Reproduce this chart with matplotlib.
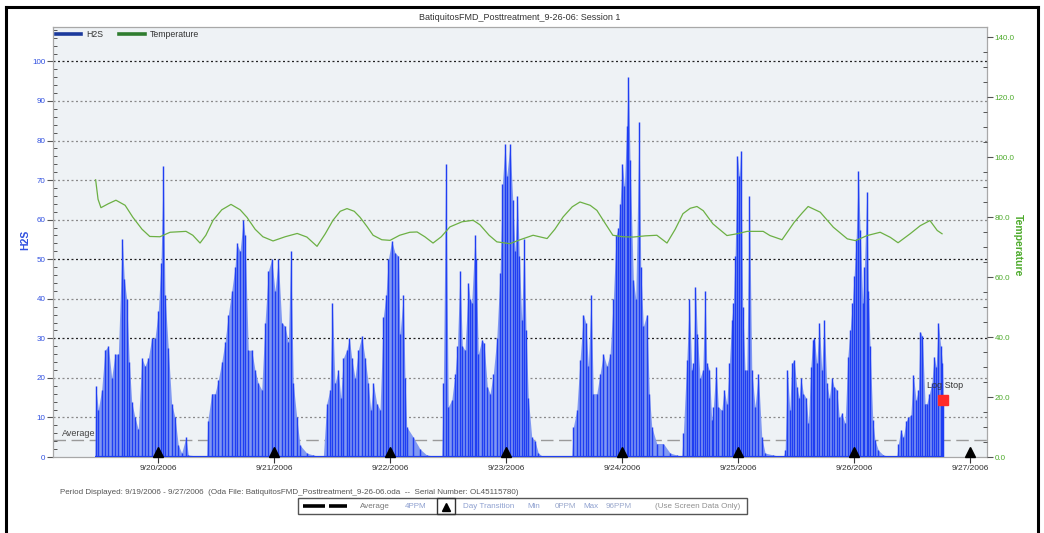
import numpy as np
import matplotlib
matplotlib.use("Agg")
import matplotlib.pyplot as plt
import matplotlib.dates as mdates
import pandas as pd
from matplotlib.lines import Line2D
from matplotlib.patches import Rectangle
from matplotlib.ticker import MultipleLocator, FixedLocator, FuncFormatter

plt.rcParams['font.family'] = ['Liberation Sans', 'DejaVu Sans']

# ---------------- data ----------------
START = pd.Timestamp('2006-09-19 00:00')

# H2S readings (hours after 9/19/2006 00:00, ppm)
h2s_hours = [
    10.97, 11.11, 11.65, 12.35, 13.03, 13.72, 14.42, 15.10, 15.79, 16.61, 17.03, 17.52, 18.06, 18.56, 19.24, 19.92,
    20.63, 21.31, 21.99, 22.70, 23.38, 24.06, 24.62, 25.10, 25.45, 26.13, 26.83, 27.52, 28.20, 28.90, 29.79, 30.27,
    34.08, 34.28, 35.11, 35.79, 36.48, 37.18, 37.86, 38.55, 39.25, 39.93, 40.28, 40.97, 41.65, 42.00, 42.68, 43.39,
    44.07, 44.75, 45.46, 46.14, 46.82, 47.53, 48.21, 48.89, 49.59, 50.28, 50.96, 51.46, 51.99, 52.70, 53.38, 54.77,
    56.13, 57.87,
    58.20, 58.90, 59.59, 60.06, 60.62, 61.30, 61.80, 62.34, 63.04, 63.58, 64.08, 64.76, 65.44, 66.15, 66.83, 67.51,
    68.00, 68.55, 69.25, 69.93, 70.62, 71.17, 71.65, 72.35, 73.04, 73.72, 74.07, 74.75, 75.10, 75.46, 76.82, 78.21,
    79.59,
    82.70, 83.03, 83.53, 84.06, 84.77, 85.45, 85.93, 86.48, 86.96, 87.52, 88.20, 88.55, 88.90, 89.59, 89.79, 90.27,
    90.97, 91.45, 92.13, 92.69, 93.37, 94.08, 94.76, 95.24, 95.80, 96.15, 96.83, 97.39, 97.86, 98.34, 98.75, 99.25,
    99.72, 100.14, 100.61, 101.32, 102.00, 102.68, 103.72,
    109.60, 109.93, 110.63, 111.31, 112.00, 112.49, 113.03, 113.59, 114.06, 114.77, 115.45, 116.13, 116.84, 117.52,
    118.20, 118.76, 119.24, 119.59, 120.06, 120.48, 120.97, 121.30, 121.66, 122.34, 122.84, 123.52, 123.87, 124.41,
    125.11, 125.65, 126.15, 127.18, 128.55, 129.93, 131.32,
    132.35, 132.68, 133.39, 133.93, 134.42, 134.75, 135.17, 135.58, 136.14, 136.70, 137.17, 137.52, 138.06, 138.56,
    138.89, 139.45, 139.92, 140.63, 141.10, 141.66, 142.20, 142.70, 143.03, 143.38, 143.86, 144.27, 144.56, 144.97,
    145.45, 145.80, 146.34, 146.84, 147.52, 148.20, 148.91, 149.59, 151.31,
    153.38, 153.73, 154.21, 154.70, 155.12, 155.59, 156.15, 156.63, 156.98, 157.52, 158.07, 158.55, 159.04, 159.46,
    159.79, 160.28, 160.82, 161.32, 161.80, 162.35, 162.89, 163.39, 163.86, 164.42, 164.96, 165.46, 166.14, 166.70,
    167.18, 167.65, 168.00, 168.42, 168.89, 169.24, 169.80, 170.13, 170.63, 170.96, 171.31, 171.87, 172.34, 173.03,
    174.06, 176.13,
    176.84, 177.17, 177.66, 178.20, 178.76, 179.24, 179.73, 180.27, 180.83, 181.31, 181.66, 182.13, 182.69, 183.04,
    183.58, 184.08, 184.55, 184.97, 185.44, 185.94, 186.27, 186.48,
]
h2s_ppm = [
    0, 18, 12, 17, 27, 28, 20, 26, 26, 55, 45, 40, 24, 14, 10, 7,
    25, 23, 25, 30, 30, 37, 49, 73.6, 41, 27.5, 13.5, 10, 3, 1, 5, 0.5,
    0, 9, 16, 16, 19.5, 24, 29, 36, 42, 48, 54, 52, 60, 56, 27, 27,
    22, 18.6, 17, 34, 47, 50, 42, 50, 34, 33, 29, 52, 18.6, 10, 3, 1,
    0.5, 0,
    0, 13.5, 17, 39, 18.6, 22, 15, 25, 27, 30, 25, 20, 27, 30.5, 25, 18.6,
    12, 18.6, 13.5, 12, 35.5, 41, 50, 54.6, 51.6, 50.8, 31, 41, 20, 7.6, 5, 2,
    0.5,
    0, 18.6, 74, 12.7, 14.4, 21, 28, 47, 28, 27, 44, 40, 39, 56, 50, 26,
    29.6, 28.8, 17.8, 16, 21, 30, 46.5, 69, 79, 71, 79, 65, 52, 66, 50.8, 34.7,
    55, 32, 15, 5, 4, 1, 0,
    0, 7.6, 11.8, 24.5, 36, 34, 23, 41, 16, 16, 21, 26, 23, 26,
    40, 56, 58, 64, 74, 68.5, 83.8, 96, 75, 44.8, 40, 84.6, 48, 33,
    36, 16, 7.6, 3.4, 3.4, 1, 0.5,
    0, 6, 24.5, 40, 22, 23.7, 43, 31, 20, 22, 42, 23.7, 22, 9.3,
    12.7, 22.8, 12.7, 11.8, 17, 13.5, 23.7, 34.7, 39, 50.8, 76, 71, 77.4, 38,
    22, 22, 66, 22, 12.7, 21, 5, 1, 0.5,
    0, 1.7, 22, 12, 23.7, 24.5, 17.8, 15, 20, 16, 15, 8.5, 22.8, 29.6,
    30, 23.7, 33.8, 22, 34.7, 18.6, 15, 20, 17.8, 17, 10, 11, 8.5, 25.4,
    32, 39, 45.7, 55, 72.3, 57.5, 39, 48, 67, 42, 28, 9.3, 4.2, 1.7,
    0.5, 0,
    0, 3.4, 6.8, 5, 9, 10, 10.6, 20.7, 14.4, 17, 31.7, 30.5, 13.5, 13.5,
    16, 18.6, 25.4, 22.8, 33.8, 28, 23.7, 14.4,
]

# Temperature readings (hours after 9/19/2006 00:00, deg F)
temp_hours = [
    11.1, 11.6, 12.2, 13.7, 15.3, 17.2, 18.8, 20.7, 22.3, 24.4,
    26.5, 29.8, 31.2, 32.7, 33.9, 35.4, 37.2, 39.1, 41.0, 42.4,
    44.1, 45.7, 47.8, 50.3, 52.8, 54.8, 56.9, 58.6, 60.2, 61.7,
    63.1, 64.6, 65.8, 67.2, 68.5, 70.3, 72.0, 74.0, 76.1, 77.6,
    79.2, 80.9, 82.6, 84.4, 86.9, 89.2, 90.6, 92.5, 94.1, 96.8,
    98.9, 101.6, 104.5, 106.1, 107.8, 109.7, 111.3, 113.4, 114.8, 116.5,
    118.1, 120.2, 122.3, 124.8, 127.2, 129.3, 131.0, 132.6, 134.1, 135.5,
    136.8, 138.8, 141.7, 143.8, 145.9, 149.2, 150.6, 153.1, 155.6, 157.3,
    158.5, 161.0, 163.7, 166.6, 168.3, 170.7, 173.4, 175.5, 177.1, 179.6,
    181.7, 183.7, 185.2, 186.2,
]
temp_f = [
    92.5, 86, 83.2, 84.5, 85.7, 84, 80, 76, 73.6, 73.5,
    75, 75.3, 74, 71.4, 74, 79, 82.5, 84.3, 82.5, 80,
    76, 73.5, 72.1, 73.5, 74.6, 73.4, 70.3, 74.5, 79, 82,
    82.9, 82, 80, 77, 74, 72.5, 72.3, 74, 75, 75.1,
    73.5, 71.4, 73.5, 76.8, 78.5, 79, 77.5, 74, 71.8, 71.2,
    72.5, 74, 72.9, 76, 80.1, 83.5, 85.1, 84, 82.3, 78,
    74, 73.5, 73.4, 73.8, 74, 71.4, 76, 81.2, 83, 83.6,
    82.2, 77.8, 73.9, 74.5, 75.3, 75.3, 73.9, 72.5, 78.3, 81.5,
    83.6, 81.7, 76.7, 72.8, 72.2, 73.9, 75, 73.3, 71.5, 74.5,
    77.2, 78.9, 75.6, 74.5,
]

day_ticks = ['2006-09-20', '2006-09-21', '2006-09-22', '2006-09-23',
             '2006-09-24', '2006-09-25', '2006-09-26', '2006-09-27']
day_labels = ['9/20/2006', '9/21/2006', '9/22/2006', '9/23/2006',
              '9/24/2006', '9/25/2006', '9/26/2006', '9/27/2006']
average_ppm = 4.4
log_stop_hour = 186.48
log_stop_ppm = 14.4
title = 'BatiquitosFMD_Posttreatment_9-26-06: Session 1'

assert len(h2s_hours) == len(h2s_ppm)
assert len(temp_hours) == len(temp_f)

# ---------------- figure ----------------
W, H = 1044, 533
fig = plt.figure(figsize=(W / 100, H / 100), dpi=100)
fig.patch.set_facecolor('white')

def fx(px):
    return px / W

def fy(py):
    return 1 - py / H

ax = fig.add_axes([fx(53), fy(457), fx(987) - fx(53), fy(27) - fy(457)])
ax.set_facecolor('#eef2f5')

to_num = lambda hrs: mdates.date2num(START + pd.to_timedelta(np.asarray(hrs, float), unit='h'))
t_h2s = to_num(h2s_hours)
v_h2s = np.asarray(h2s_ppm, float)
t_tmp = to_num(temp_hours)
v_tmp = np.asarray(temp_f, float)

x0 = to_num([2.28])[0]
x1 = to_num([195.5])[0]
ax.set_xlim(x0, x1)
ax.set_ylim(0, 108.7)

# gridlines
dark_grid = {30, 50, 100}
for g in range(10, 101, 10):
    ax.axhline(g, color='#222222' if g in dark_grid else '#8a8a8a',
               lw=0.9, ls=(0, (1.6, 2.0)), zorder=1)

# average dashed line
ax.axhline(average_ppm, color='#9a9a9a', lw=1.0, ls=(0, (9, 4)), zorder=1.5)
ax.text(to_num([4.1])[0], average_ppm + 0.4, 'Average', fontsize=6.5,
        color='#444444', ha='left', va='bottom', zorder=2)

# H2S series
ax.fill_between(t_h2s, 0, v_h2s, color='#8199f2', lw=0, zorder=2)
ax.vlines(t_h2s, 0, v_h2s, color='#1f3ef2', lw=1.05, zorder=3)
ax.plot([t_h2s[0], t_h2s[-1]], [0, 0], color='#1f3ef2', lw=1.6, zorder=3,
        solid_capstyle='butt')

# day transition markers
day_nums = mdates.date2num(pd.to_datetime(day_ticks))
ax.plot(day_nums, np.full(len(day_nums), 1.25), ls='none', marker='^',
        ms=7, color='black', zorder=6, clip_on=False)

# log stop
ax.plot([to_num([log_stop_hour])[0]], [log_stop_ppm], marker='s', ms=6.5,
        color='#ff2a2a', ls='none', zorder=7)
ax.text(to_num([log_stop_hour + 0.4])[0], log_stop_ppm + 2.6, 'Log Stop',
        fontsize=6.5, color='#333333', ha='center', va='bottom', zorder=7)

# axes styling
for s in ['left', 'right', 'top', 'bottom']:
    ax.spines[s].set_color('#a8a8a8')
    ax.spines[s].set_linewidth(0.9)

ax.xaxis.set_major_locator(FixedLocator(day_nums))
ax.set_xticklabels(day_labels)
ax.tick_params(axis='x', which='major', direction='out', length=4, width=0.8,
               color='#333333', labelsize=6, labelcolor='#333333', pad=1.5)

ax.yaxis.set_major_locator(MultipleLocator(10))
ax.yaxis.set_minor_locator(MultipleLocator(2))
ax.yaxis.set_major_formatter(FuncFormatter(lambda v, p: f'{int(round(v))}'))
ax.tick_params(axis='y', which='major', direction='out', length=4, width=0.8,
               color='#555555', labelsize=5.8, labelcolor='#3050e0', pad=1.5)
ax.tick_params(axis='y', which='minor', direction='in', length=3, width=0.7,
               color='#555555')

# temperature axis
ax2 = ax.twinx()
ax2.set_ylim(0, 143.5)
ax2.plot(t_tmp, v_tmp, color='#6cb044', lw=0.9, zorder=4)
ax2.yaxis.set_major_locator(MultipleLocator(20))
ax2.yaxis.set_minor_locator(MultipleLocator(5))
ax2.yaxis.set_major_formatter(FuncFormatter(lambda v, p: f'{v:.1f}'))
ax2.tick_params(axis='y', which='major', direction='out', length=4, width=0.8,
                color='#555555', labelsize=5.8, labelcolor='#4caa2a', pad=1.5)
ax2.tick_params(axis='y', which='minor', direction='in', length=3, width=0.7,
                color='#555555')
for s in ['left', 'right', 'top', 'bottom']:
    ax2.spines[s].set_visible(False)

# legend
handles = [Line2D([], [], color='#1b3a9c', lw=2.6),
           Line2D([], [], color='#2f7d2f', lw=2.6)]
ax2.legend(handles, ['H2S', 'Temperature'], loc='upper left', ncol=2,
           fontsize=6.3, frameon=False, handlelength=2.9, columnspacing=1.8,
           handletextpad=0.6, borderaxespad=0.0, borderpad=0.35,
           labelcolor='#333333')

# titles and axis labels
fig.text(0.498, fy(18), title, fontsize=6.5, color='#333333', ha='center', va='center')
fig.text(fx(25), fy(240), 'H2S', fontsize=7.5, color='#3050e0', fontweight='bold',
         rotation=90, ha='center', va='center')
fig.text(fx(1018), fy(245), 'Temperature', fontsize=7.5, color='#4caa2a',
         fontweight='bold', rotation=270, ha='center', va='center')

# footer
fig.text(fx(60), fy(493),
         'Period Displayed: 9/19/2006 - 9/27/2006  (Oda File: BatiquitosFMD_Posttreatment_9-26-06.oda  --  Serial Number: OL45115780)',
         fontsize=5.8, color='#555555', ha='left', va='center')
fig.add_artist(Rectangle((fx(298), fy(514)), fx(747) - fx(298), fy(498) - fy(514),
                         transform=fig.transFigure, fill=False, ec='#555555', lw=1.0))
fig.add_artist(Line2D([fx(303), fx(325)], [fy(506), fy(506)], transform=fig.transFigure,
                      color='black', lw=2.6, solid_capstyle='butt'))
fig.add_artist(Line2D([fx(329), fx(347)], [fy(506), fy(506)], transform=fig.transFigure,
                      color='black', lw=2.6, solid_capstyle='butt'))
fig.add_artist(Rectangle((fx(437), fy(514)), fx(455) - fx(437), fy(498) - fy(514),
                         transform=fig.transFigure, fill=False, ec='#333333', lw=1.0))
fig.add_artist(Line2D([fx(446)], [fy(506.5)], transform=fig.transFigure, marker='^',
                      ms=5.5, color='black', ls='none'))
footer_items = [(360, 'Average', '#777777'), (405, '4PPM', '#8ea0d0'),
                (463, 'Day Transition', '#8ea0d0'), (527, 'Min', '#8ea0d0'),
                (555, '0PPM', '#9aa8cc'), (583, 'Max', '#8ea0d0'),
                (606, '96PPM', '#9aa8cc'), (655, '(Use Screen Data Only)', '#8f8f8f')]
for px, s, c in footer_items:
    fig.text(fx(px), fy(506), s, fontsize=5.8, color=c, ha='left', va='center')

# outer black frame
fig.add_artist(Line2D([fx(6), fx(6)], [0, fy(7)], transform=fig.transFigure, color='black', lw=2.2))
fig.add_artist(Line2D([fx(6), fx(1038)], [fy(7), fy(7)], transform=fig.transFigure, color='black', lw=2.2))
fig.add_artist(Line2D([fx(1038), fx(1038)], [0, fy(7)], transform=fig.transFigure, color='black', lw=2.2))

fig.savefig('out.png', dpi=100, facecolor='white')
